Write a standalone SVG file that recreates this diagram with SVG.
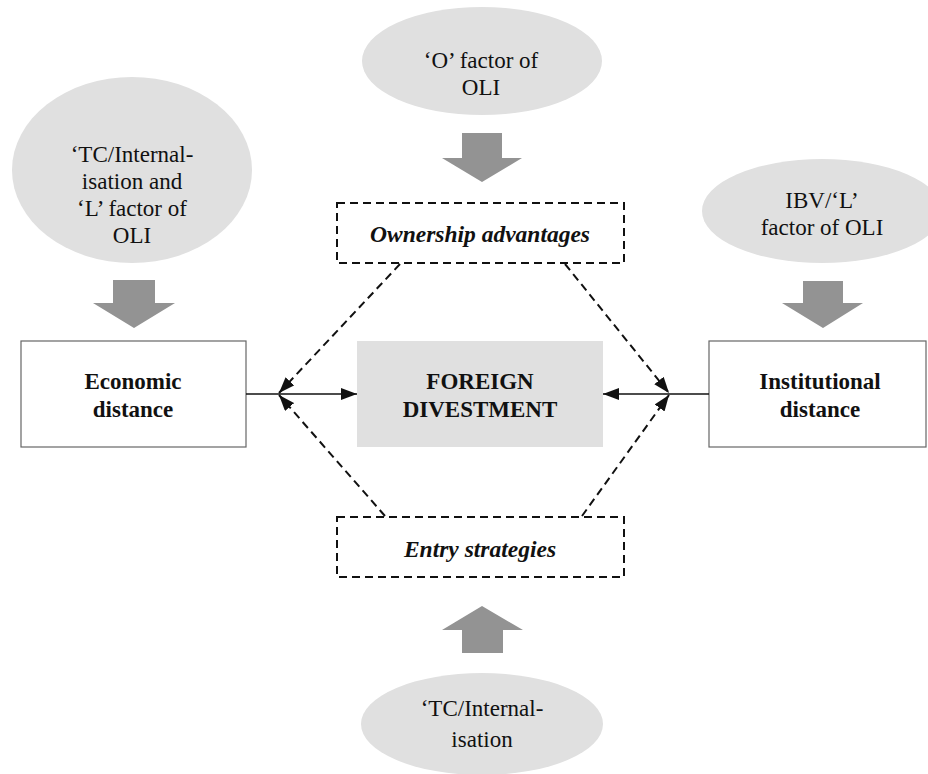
<svg xmlns="http://www.w3.org/2000/svg" width="928" height="774" viewBox="0 0 928 774">
  <defs>
    <style>
      .serif { font-family: 'Liberation Serif', 'Times New Roman', Times, 'DejaVu Serif', serif; }
      .oval { fill: #e0e0e0; stroke: none; }
      .oval-text { font-size: 23px; fill: #111; text-anchor: middle; }
      .box { fill: #fff; stroke: #666; stroke-width: 1.2; }
      .core { fill: #e0e0e0; stroke: none; }
      .dash-box { fill: #fff; stroke: #111; stroke-width: 2; stroke-dasharray: 8 5; }
      .label { font-size: 23px; font-weight: bold; fill: #111; text-anchor: middle; }
      .label-it { font-size: 23.5px; font-weight: bold; font-style: italic; fill: #111; text-anchor: middle; }
      .block-arrow { fill: #939393; stroke: none; }
      .link { stroke: #111; stroke-width: 1.3; fill: none; }
      .link-dash { stroke: #111; stroke-width: 2; stroke-dasharray: 8 5; fill: none; }
    </style>
    <marker id="head" viewBox="0 0 16 12" refX="16" refY="6" markerWidth="16" markerHeight="12" markerUnits="userSpaceOnUse" orient="auto">
      <path d="M0,0 L16,6 L0,12 z" fill="#111"/>
    </marker>
  </defs>

  <g class="serif" font-family="Liberation Serif, Times New Roman, DejaVu Serif, serif">
    <!-- Theory ovals -->
    <g id="oval-tc-l">
      <ellipse class="oval" cx="132" cy="170" rx="120" ry="93"/>
      <text class="oval-text" x="132" y="162" font-size="22">‘TC/Internal-</text>
      <text class="oval-text" x="132" y="189" font-size="22">isation and</text>
      <text class="oval-text" x="132" y="216" font-size="22">‘L’ factor of</text>
      <text class="oval-text" x="132" y="243" font-size="22">OLI</text>
    </g>
    <g id="oval-o">
      <ellipse class="oval" cx="482" cy="61" rx="120" ry="54"/>
      <text class="oval-text" x="481" y="68">‘O’ factor of</text>
      <text class="oval-text" x="481" y="95">OLI</text>
    </g>
    <g id="oval-ibv">
      <ellipse class="oval" cx="822" cy="211" rx="120" ry="52"/>
      <text class="oval-text" x="822" y="208">IBV/‘L’</text>
      <text class="oval-text" x="822" y="235">factor of OLI</text>
    </g>
    <g id="oval-tc">
      <ellipse class="oval" cx="482" cy="724" rx="121" ry="51"/>
      <text class="oval-text" x="482" y="716">‘TC/Internal-</text>
      <text class="oval-text" x="482" y="747">isation</text>
    </g>

    <!-- Broad grey arrows -->
    <g id="arrow-left">
      <path class="block-arrow" d="M113,280 H155 V303 H175 L134,328 L93,303 H113 Z"/>
    </g>
    <g id="arrow-top">
      <path class="block-arrow" d="M462,133 H502 V158 H522 L482,182 L442,158 H462 Z"/>
    </g>
    <g id="arrow-right">
      <path class="block-arrow" d="M803,281 H843 V303 H863 L823,328 L782,303 H803 Z"/>
    </g>
    <g id="arrow-bottom">
      <path class="block-arrow" d="M462,653 H503 V630 H523 L482,606 L442,630 H462 Z"/>
    </g>

    <!-- Boxes -->
    <g id="economic-distance">
      <rect class="box" x="21" y="341" width="225" height="106"/>
      <text class="label" x="133" y="389">Economic</text>
      <text class="label" x="133" y="417">distance</text>
    </g>
    <g id="foreign-divestment">
      <rect class="core" x="357" y="341" width="246" height="106"/>
      <text class="label" x="480" y="389">FOREIGN</text>
      <text class="label" x="480" y="417">DIVESTMENT</text>
    </g>
    <g id="institutional-distance">
      <rect class="box" x="709" y="341" width="217" height="106"/>
      <text class="label" x="820" y="389">Institutional</text>
      <text class="label" x="820" y="417">distance</text>
    </g>
    <g id="ownership-advantages">
      <rect class="dash-box" x="337" y="203" width="287" height="60"/>
      <text class="label-it" x="480" y="242">Ownership advantages</text>
    </g>
    <g id="entry-strategies">
      <rect class="dash-box" x="337" y="517" width="287" height="60"/>
      <text class="label-it" x="480" y="557">Entry strategies</text>
    </g>

    <!-- Connectors -->
    <g id="connectors">
      <line class="link" x1="246" y1="394" x2="357" y2="394" marker-end="url(#head)"/>
      <line class="link" x1="709" y1="394" x2="603" y2="394" marker-end="url(#head)"/>
      <line class="link-dash" x1="400" y1="264" x2="279" y2="393" marker-end="url(#head)"/>
      <line class="link-dash" x1="385" y1="516" x2="279" y2="395" marker-end="url(#head)"/>
      <line class="link-dash" x1="565" y1="264" x2="669" y2="393" marker-end="url(#head)"/>
      <line class="link-dash" x1="582" y1="516" x2="669" y2="395" marker-end="url(#head)"/>
    </g>
  </g>
</svg>
